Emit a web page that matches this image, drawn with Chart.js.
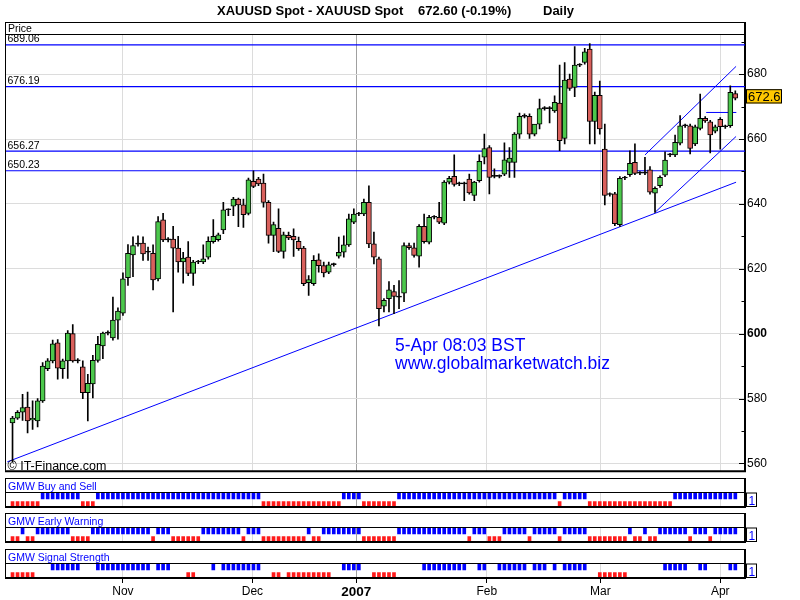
<!DOCTYPE html>
<html>
<head>
<meta charset="utf-8">
<script src="https://cdn.jsdelivr.net/npm/chart.js@4.4.0/dist/chart.umd.min.js"></script>
<style>
body { margin: 0; background: #fff; }
#wrap { position: relative; width: 800px; height: 600px; overflow: hidden; background: #fff; }
canvas { position: absolute; left: 0; }
</style>
</head>
<body>
<div id="wrap">
<canvas id="price" width="800" height="480" style="top:0px"></canvas>
<canvas id="p1" width="800" height="30" style="top:478px"></canvas>
<canvas id="p2" width="800" height="30" style="top:513px"></canvas>
<canvas id="p3" width="800" height="51" style="top:549px"></canvas>
</div>
<script>
// daily candles, Oct 2006 - 5 Apr 2007
const opens = [
  572.5,574.0,575.8,577.4,573.4,573.1,579.3,589.2,591.6,597.2,
  589.2,591.6,600.0,591.6,589.8,581.8,584.5,591.8,596.2,600.2,
  598.7,604.2,606.3,617.3,624.3,627.6,627.9,625.1,624.8,616.9,
  635.1,628.9,629.2,626.4,622.1,623.6,618.6,622.1,622.1,623.6,
  628.4,629.0,632.0,638.2,639.3,641.5,639.7,637.1,647.0,647.7,
  646.4,640.5,630.3,632.5,625.4,630.3,630.0,628.5,626.4,615.7,
  615.4,622.8,621.0,619.0,621.3,623.9,625.1,627.4,634.4,636.9,
  636.9,640.5,627.7,623.1,608.5,610.8,613.0,611.3,612.5,627.2,
  626.5,623.9,633.1,628.2,635.9,635.9,634.1,646.7,648.5,646.2,
  646.2,647.7,642.6,647.2,654.4,657.4,648.5,648.5,649.2,652.8,
  652.8,661.5,667.0,667.0,661.5,664.6,669.4,669.4,668.7,671.1,
  660.2,678.5,675.9,682.8,683.6,687.7,665.4,673.5,656.9,642.9,
  643.1,633.6,648.0,649.0,652.8,649.5,649.5,650.5,643.3,645.6,
  648.9,655.1,655.1,658.7,664.1,664.1,658.5,663.3,666.4,665.3,
  662.4,666.1,663.8,664.1,674.0
];
const highs = [
  574.5,576.3,581.3,582.0,579.3,580.0,591.1,592.3,598.0,598.2,
  592.2,601.0,602.8,592.3,591.6,587.5,593.3,599.2,600.5,600.9,
  611.3,608.0,618.8,627.5,629.9,630.2,629.9,626.7,627.4,636.1,
  637.1,629.6,633.1,630.0,625.1,628.4,622.6,622.6,627.4,629.9,
  635.2,631.0,640.5,638.5,642.0,641.8,641.5,648.0,650.2,648.2,
  649.2,641.0,634.4,638.5,631.3,631.3,632.3,629.8,626.9,617.9,
  624.1,624.6,622.1,622.1,621.8,629.8,630.2,636.9,638.5,637.4,
  641.5,645.6,631.3,623.6,610.8,616.1,614.9,616.4,628.0,627.9,
  627.9,633.6,636.9,636.5,636.4,640.5,647.2,648.5,655.1,646.7,
  646.7,649.2,647.0,655.1,661.5,658.0,650.8,649.0,658.8,657.4,
  662.0,668.0,667.8,667.8,662.5,672.3,670.0,670.0,673.3,682.8,
  683.6,680.0,688.5,683.3,688.0,689.4,674.5,677.9,664.6,643.4,
  643.6,648.4,648.5,656.4,658.5,650.0,654.4,651.5,645.3,648.7,
  656.1,655.6,661.2,667.2,664.6,664.6,664.3,673.9,666.9,665.8,
  664.3,666.6,664.3,676.4,674.9
];
const lows = [
  560.5,573.6,573.3,569.4,570.5,571.3,578.8,588.6,591.0,586.0,
  586.2,586.2,591.2,591.0,580.0,573.1,580.2,591.2,592.3,599.6,
  598.0,598.3,605.6,614.9,617.6,627.0,622.6,622.6,613.5,616.3,
  628.4,628.3,606.7,619.0,615.6,617.9,614.9,621.6,621.6,623.0,
  627.9,628.5,630.8,636.4,636.4,633.0,632.8,636.6,645.0,645.6,
  639.0,627.9,625.3,625.0,623.3,629.0,623.8,625.7,614.8,611.8,
  614.9,619.0,617.5,618.5,620.8,623.3,623.6,626.9,633.9,636.4,
  636.4,626.5,621.5,602.4,606.7,606.7,606.2,607.7,609.9,626.0,
  623.6,620.5,627.9,627.7,635.4,633.9,633.6,646.2,645.5,645.6,
  641.0,643.0,641.0,646.7,652.3,643.1,648.0,648.0,648.7,648.2,
  648.2,660.2,666.5,660.2,661.0,663.1,668.9,665.0,668.2,656.4,
  658.5,675.0,673.1,682.3,683.1,658.5,658.5,661.5,639.7,642.4,
  633.3,633.1,647.5,648.5,649.0,649.0,649.0,643.0,637.4,645.1,
  648.4,654.6,654.6,658.2,663.6,655.4,658.0,662.8,665.1,655.7,
  661.9,656.9,663.3,663.6,672.1
];
const closes = [
  574.0,575.8,577.2,573.1,573.9,579.3,590.0,591.6,596.9,589.4,
  591.6,600.2,591.6,591.6,581.8,584.7,591.8,596.7,600.2,600.2,
  604.2,607.0,616.9,624.8,627.2,627.6,624.6,625.1,616.6,634.6,
  628.9,628.9,626.4,622.1,623.3,618.6,622.1,622.1,623.1,628.5,
  630.0,630.5,638.2,638.2,641.5,639.7,636.7,647.4,645.4,646.2,
  640.5,630.3,633.6,625.4,630.5,629.5,628.9,626.2,615.4,616.7,
  622.6,621.0,618.7,621.2,621.3,625.1,627.4,635.4,636.9,636.9,
  640.5,627.7,623.6,607.7,610.3,613.5,611.5,611.3,627.2,626.5,
  624.1,633.1,628.4,635.9,635.9,634.4,646.7,647.9,646.0,646.2,
  646.2,643.4,646.7,653.1,657.1,648.2,648.5,648.5,653.6,654.1,
  661.5,667.0,667.0,661.5,664.6,669.4,669.4,669.4,671.3,659.5,
  678.2,675.6,682.8,682.8,686.9,665.4,673.5,663.1,642.6,642.9,
  633.9,647.9,648.0,652.5,649.4,649.5,649.5,643.6,644.8,648.2,
  653.5,655.1,659.0,664.1,664.1,657.1,663.8,666.4,665.6,661.3,
  663.8,663.8,663.8,674.4,672.6
];

// horizontal price levels and drawn trend lines [startIndex, startPrice, endIndex, endPrice]
const levels = [689.06, 676.19, 656.27, 650.23];
const trendLines = [
  [-1.04, 560.5, 144.15, 646.7],
  [128.0, 637.4, 144.15, 660.8],
  [126.0, 655.1, 144.15, 682.4],
  [138.2, 668.2, 144.2, 668.2]
];

// month boundaries (in candle index) and their labels
const monthPos = [22, 47.8, 68.5, 94.5, 117.1, 141.0];
const monthLabels = ['Nov', 'Dec', '2007', 'Feb', 'Mar', 'Apr'];
const priceTicks = [560, 580, 600, 620, 640, 660, 680];

// indicator signals: 1 = blue (buy), -1 = red (sell), 0 = none
const buySell = [
  -1,-1,-1,-1,-1,-1,1,1,1,1,
  1,1,1,1,-1,-1,-1,1,1,1,
  1,1,1,1,1,1,1,1,1,1,
  1,1,1,1,1,1,1,1,1,1,
  1,1,1,1,1,1,1,1,1,1,
  -1,-1,-1,-1,-1,-1,-1,-1,-1,-1,
  -1,-1,-1,-1,-1,-1,1,1,1,1,
  -1,-1,-1,-1,-1,-1,-1,1,1,1,
  1,1,1,1,1,1,1,1,1,1,
  1,1,1,1,1,1,1,1,1,1,
  1,1,1,1,1,1,1,1,1,-1,
  1,1,1,1,1,-1,-1,-1,-1,-1,
  -1,-1,-1,-1,-1,-1,-1,-1,-1,-1,
  -1,-1,1,1,1,1,1,1,1,1,
  1,1,1,1,1
];
const earlyWarning = [
  -1,-1,1,-1,-1,1,1,1,1,1,
  1,1,-1,-1,-1,-1,1,1,1,1,
  1,1,1,1,1,1,1,1,-1,1,
  1,1,-1,-1,-1,-1,-1,-1,1,1,
  1,1,1,1,1,1,-1,1,1,1,
  -1,-1,-1,-1,-1,-1,-1,-1,-1,1,
  -1,-1,1,1,1,1,1,1,1,1,
  -1,-1,-1,-1,-1,-1,-1,1,1,1,
  1,1,1,1,1,1,1,1,1,1,
  1,-1,1,1,1,-1,-1,-1,1,1,
  1,1,1,-1,1,1,1,1,1,-1,
  1,1,1,1,1,-1,-1,-1,-1,-1,
  -1,-1,-1,1,-1,-1,1,-1,-1,1,
  1,1,1,1,1,-1,1,1,1,-1,
  1,1,1,1,1
];
const signalStrength = [
  -1,-1,-1,-1,-1,0,0,0,1,1,
  1,1,1,1,0,0,0,1,1,1,
  1,1,1,1,1,1,1,1,0,1,
  1,1,0,0,0,-1,-1,0,0,0,
  1,0,1,1,1,1,1,1,1,1,
  0,0,-1,-1,0,-1,-1,-1,-1,-1,
  -1,-1,-1,-1,0,0,1,1,1,1,
  0,0,-1,-1,-1,-1,-1,0,0,0,
  0,0,1,1,1,1,1,1,1,1,
  1,0,0,1,1,0,0,1,1,1,
  1,1,1,0,1,1,1,0,1,0,
  1,1,1,1,1,0,0,-1,-1,-1,
  -1,-1,-1,0,0,0,0,0,0,0,
  1,1,1,1,1,0,0,1,1,0,
  0,0,0,1,1
];

const FONT = "'Liberation Sans', Arial, sans-serif";
const xMin = -1.3, xMax = 145.93;
const yMin = 557.74, yMax = 692.23;
const GRID = '#dcdcdc';
const gridColor = c => (c.tick && c.tick.value === monthPos[2]) ? '#a0a0a0' : GRID;
const idx = closes.map((_, i) => i);
const last = closes.length - 1;

function bodyColor(i) {
  if (closes[i] > opens[i]) return '#4cc84c';
  if (closes[i] < opens[i]) return '#d9605c';
  return '#000';
}

const priceDecor = {
  id: 'priceDecor',
  beforeDatasetsDraw(chart) {
    const { ctx, chartArea: a, scales: { y } } = chart;
    ctx.save();
    ctx.beginPath();
    ctx.rect(a.left, a.top, a.right - a.left, a.bottom - a.top);
    ctx.clip();
    ctx.strokeStyle = '#0000ff';
    ctx.lineWidth = 1.2;
    ctx.fillStyle = '#000';
    ctx.font = '10.5px ' + FONT;
    levels.forEach(v => {
      const py = y.getPixelForValue(v);
      ctx.beginPath();
      ctx.moveTo(a.left, py);
      ctx.lineTo(a.right, py);
      ctx.stroke();
      ctx.fillText(v.toFixed(2), a.left + 1.5, py - 2.5);
    });
    ctx.restore();
  },
  afterDraw(chart) {
    const { ctx, chartArea: a, scales: { y } } = chart;
    ctx.save();
    // title
    ctx.fillStyle = '#000';
    ctx.font = 'bold 13px ' + FONT;
    ctx.fillText('XAUUSD Spot - XAUUSD Spot', 217, 14.5);
    ctx.fillText('672.60 (-0.19%)', 418, 14.5);
    ctx.fillText('Daily', 543, 14.5);
    // header strip
    ctx.strokeStyle = '#000';
    ctx.lineWidth = 1;
    ctx.strokeRect(5.5, 22.5, a.right - 5.5, a.top - 22.5);
    ctx.font = '10.5px ' + FONT;
    ctx.fillText('Price', 8, 32);
    // left and bottom frame, axis line through header
    ctx.beginPath();
    ctx.moveTo(5.5, a.top);
    ctx.lineTo(5.5, a.bottom);
    ctx.stroke();
    ctx.lineWidth = 2;
    ctx.beginPath();
    ctx.moveTo(5, a.bottom + 0.5);
    ctx.lineTo(a.right + 1, a.bottom + 0.5);
    ctx.stroke();
    ctx.beginPath();
    ctx.moveTo(a.right, 22);
    ctx.lineTo(a.right, a.top);
    ctx.stroke();
    // inner tick marks every 10
    ctx.lineWidth = 1;
    for (let v = 560; v <= 690; v += 10) {
      const py = Math.round(y.getPixelForValue(v)) + 0.5;
      const len = v % 20 === 0 ? 6 : 3.5;
      ctx.beginPath();
      ctx.moveTo(a.right - len, py);
      ctx.lineTo(a.right, py);
      ctx.stroke();
    }
    // watermark and stamp
    ctx.font = '12.5px ' + FONT;
    ctx.fillText('\u00A9 IT-Finance.com', 7.5, 470);
    ctx.fillStyle = '#0000ff';
    ctx.font = '17.5px ' + FONT;
    ctx.fillText('5-Apr 08:03 BST', 395, 351);
    ctx.fillText('www.globalmarketwatch.biz', 395, 369);
    // last price box
    const py = y.getPixelForValue(closes[last]) - 2;
    ctx.fillStyle = '#ffc800';
    ctx.fillRect(746, py - 7, 35.5, 14.3);
    ctx.strokeStyle = '#000';
    ctx.strokeRect(746.5, py - 6.5, 35, 13.3);
    ctx.fillStyle = '#000';
    ctx.font = '13px ' + FONT;
    ctx.fillText(closes[last].toFixed(1), 748, py + 5);
    ctx.restore();
  }
};

new Chart(document.getElementById('price'), {
  type: 'bar',
  data: {
    datasets: [
      {
        label: 'body',
        data: idx.map(i => ({ x: i, y: [opens[i], closes[i]] })),
        backgroundColor: idx.map(bodyColor),
        borderColor: '#000',
        borderWidth: 1,
        borderSkipped: false,
        barThickness: 5,
        minBarLength: 1,
        grouped: false,
        order: 0
      },
      {
        label: 'wick',
        data: idx.map(i => ({ x: i, y: [lows[i], highs[i]] })),
        backgroundColor: '#000',
        borderWidth: 0,
        barThickness: 1,
        grouped: false,
        order: 1
      },
      ...trendLines.map(t => ({
        type: 'line',
        data: [{ x: t[0], y: t[1] }, { x: t[2], y: t[3] }],
        borderColor: '#0000ff',
        borderWidth: 1,
        pointRadius: 0,
        order: 2
      }))
    ]
  },
  options: {
    responsive: false,
    animation: false,
    layout: { padding: { top: 34.5, left: 6, bottom: 8, right: 0 } },
    plugins: { legend: { display: false }, tooltip: { enabled: false } },
    scales: {
      x: {
        type: 'linear', min: xMin, max: xMax, offset: false,
        afterBuildTicks: s => { s.ticks = monthPos.map(v => ({ value: v })); },
        afterFit: s => { s.height = 0; },
        ticks: { display: false },
        grid: { offset: false, drawTicks: false, color: gridColor },
        border: { display: false }
      },
      y: {
        type: 'linear', position: 'right', min: yMin, max: yMax,
        afterBuildTicks: s => { s.ticks = priceTicks.map(v => ({ value: v })); },
        afterFit: s => { s.width = 55; },
        ticks: {
          padding: 2, color: '#000',
          font: c => ({ family: FONT, size: 12, weight: (c.tick && c.tick.value === 600) ? 'bold' : 'normal' }),
          callback: v => v
        },
        grid: { drawTicks: false, color: GRID },
        border: { display: true, color: '#000', width: 2 }
      }
    }
  },
  plugins: [priceDecor]
});

function panelDecor(title) {
  return {
    id: 'panelDecor',
    afterDraw(chart) {
      const { ctx, chartArea: a } = chart;
      ctx.save();
      ctx.strokeStyle = '#000';
      ctx.lineWidth = 1;
      ctx.strokeRect(5.5, 0.5, a.right - 5.5, a.top - 0.5);
      ctx.beginPath();
      ctx.moveTo(5.5, a.top);
      ctx.lineTo(5.5, a.bottom);
      ctx.stroke();
      ctx.lineWidth = 2;
      ctx.beginPath();
      ctx.moveTo(5, a.bottom);
      ctx.lineTo(a.right + 1, a.bottom);
      ctx.stroke();
      ctx.beginPath();
      ctx.moveTo(a.right, 0);
      ctx.lineTo(a.right, a.bottom + 1);
      ctx.stroke();
      ctx.fillStyle = '#0000ff';
      ctx.font = '10.5px ' + FONT;
      ctx.fillText(title, 8, a.top - 3);
      ctx.lineWidth = 1;
      ctx.strokeRect(746.5, a.top + 0.5, 10, a.bottom - a.top - 1);
      ctx.font = '12px ' + FONT;
      ctx.fillText('1', 748.5, a.bottom - 2.5);
      ctx.restore();
    }
  };
}

function makePanel(id, title, signals, padTop, withAxis) {
  new Chart(document.getElementById(id), {
    type: 'bar',
    data: {
      datasets: [{
        data: signals.map((s, i) => s === 0 ? null : { x: i, y: s > 0 ? [0.1, 0.95] : [-0.85, -0.25], s: s }).filter(Boolean),
        backgroundColor: c => (c.raw && c.raw.s > 0) ? '#0000ff' : '#ff1a1a',
        borderWidth: 0,
        barThickness: 3
      }]
    },
    options: {
      responsive: false,
      animation: false,
      layout: { padding: { top: padTop, left: 6, bottom: withAxis ? 0 : 1, right: 0 } },
      plugins: { legend: { display: false }, tooltip: { enabled: false } },
      scales: {
        x: {
          type: 'linear', min: xMin, max: xMax, offset: false,
          afterBuildTicks: s => { s.ticks = monthPos.map(v => ({ value: v })); },
          afterFit: s => { s.height = withAxis ? 22 : 0; },
          ticks: {
            display: withAxis, autoSkip: false, maxRotation: 0, padding: 1, color: '#000',
            font: c => ({ family: FONT, size: c.index === 2 ? 13.5 : 12, weight: c.index === 2 ? 'bold' : 'normal' }),
            callback: (v, i) => monthLabels[i]
          },
          grid: { offset: false, drawTicks: withAxis, tickLength: 5, tickColor: '#000', color: gridColor },
          border: { display: false }
        },
        y: {
          type: 'linear', position: 'right', min: -1, max: 1,
          afterFit: s => { s.width = 55; },
          ticks: { display: false },
          grid: { display: false },
          border: { display: false }
        }
      }
    },
    plugins: [panelDecor(title)]
  });
}

makePanel('p1', 'GMW Buy and Sell', buySell, 14.5, false);
makePanel('p2', 'GMW Early Warning', earlyWarning, 14.5, false);
makePanel('p3', 'GMW Signal Strength', signalStrength, 14.5, true);
</script>
</body>
</html>
